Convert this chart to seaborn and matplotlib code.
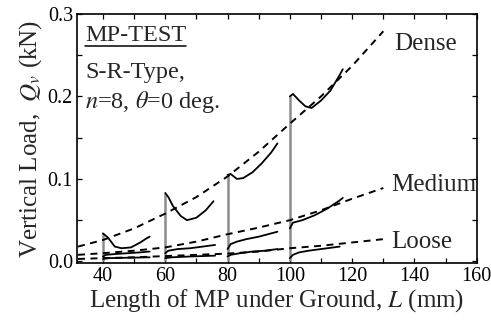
import matplotlib
matplotlib.use("Agg")
import matplotlib.pyplot as plt
import numpy as np
import pandas as pd
import seaborn as sns
from matplotlib.ticker import MultipleLocator, FormatStrFormatter

# ---------------- data ----------------
# dashed reference (trend) lines
trend_L = [32, 40, 50, 60, 70, 80, 90, 100, 110, 120, 130]
dense_trend = [0.018, 0.026, 0.040, 0.058, 0.078, 0.103, 0.133, 0.167, 0.200, 0.237, 0.279]
medium_trend = [0.008, 0.010, 0.013, 0.017, 0.024, 0.033, 0.041, 0.050, 0.062, 0.076, 0.089]
loose_trend = [0.003, 0.004, 0.005, 0.0065, 0.008, 0.0095, 0.012, 0.016, 0.019, 0.023, 0.027]

# measured curves, one per insertion stage (start at 40, 60, 80, 100 mm)
dense_40_L = [40, 41.6, 43.8, 46, 49, 52, 54, 55]
dense_40_Q = [0.034, 0.029, 0.018, 0.016, 0.017, 0.023, 0.028, 0.030]
dense_60_L = [60, 61, 62.5, 65, 67, 70, 73, 75.5]
dense_60_Q = [0.083, 0.078, 0.067, 0.055, 0.050, 0.053, 0.062, 0.073]
dense_80_L = [80, 81, 83, 85, 88, 91, 94, 96]
dense_80_Q = [0.105, 0.106, 0.100, 0.101, 0.108, 0.119, 0.132, 0.143]
dense_100_L = [100, 101, 103, 105, 107, 110, 113, 116, 117]
dense_100_Q = [0.200, 0.203, 0.195, 0.188, 0.186, 0.195, 0.207, 0.226, 0.233]

medium_40_L = [40, 41, 44, 48, 52, 55]
medium_40_Q = [0.006, 0.008, 0.009, 0.010, 0.011, 0.012]
medium_60_L = [60, 61, 64, 68, 72, 76]
medium_60_Q = [0.010, 0.013, 0.015, 0.016, 0.018, 0.020]
medium_80_L = [80, 81, 83, 86, 90, 94, 96]
medium_80_Q = [0.015, 0.021, 0.024, 0.027, 0.030, 0.034, 0.036]
medium_100_L = [100, 101, 104, 108, 112, 116, 117]
medium_100_Q = [0.040, 0.047, 0.050, 0.056, 0.064, 0.074, 0.077]

loose_40_L = [40, 42, 48, 55]
loose_40_Q = [0.003, 0.004, 0.0045, 0.005]
loose_60_L = [60, 62, 68, 76]
loose_60_Q = [0.004, 0.005, 0.006, 0.007]
loose_80_L = [80, 81, 84, 88, 92, 96]
loose_80_Q = [0.006, 0.008, 0.010, 0.012, 0.013, 0.015]
loose_100_L = [100, 101, 103, 106, 110, 116]
loose_100_Q = [0.004, 0.008, 0.011, 0.013, 0.015, 0.018]

stage_starts = [40, 60, 80, 100]
x_ticks = [40, 60, 80, 100, 120, 140, 160]
y_ticks = [0.0, 0.1, 0.2, 0.3]

# ---------------- tables ----------------
trend_df = pd.concat([
    pd.DataFrame({"L": trend_L, "Q": dense_trend, "sand": "Dense"}),
    pd.DataFrame({"L": trend_L, "Q": medium_trend, "sand": "Medium"}),
    pd.DataFrame({"L": trend_L, "Q": loose_trend, "sand": "Loose"}),
], ignore_index=True)

segments = {
    "d40": (dense_40_L, dense_40_Q), "d60": (dense_60_L, dense_60_Q),
    "d80": (dense_80_L, dense_80_Q), "d100": (dense_100_L, dense_100_Q),
    "m40": (medium_40_L, medium_40_Q), "m60": (medium_60_L, medium_60_Q),
    "m80": (medium_80_L, medium_80_Q), "m100": (medium_100_L, medium_100_Q),
    "l40": (loose_40_L, loose_40_Q), "l60": (loose_60_L, loose_60_Q),
    "l80": (loose_80_L, loose_80_Q), "l100": (loose_100_L, loose_100_Q),
}
curve_df = pd.concat([pd.DataFrame({"L": v[0], "Q": v[1], "seg": k})
                      for k, v in segments.items()], ignore_index=True)
dense_peaks = [dense_40_Q[0], dense_60_Q[0], dense_80_Q[0], dense_100_Q[0]]

# ---------------- figure ----------------
sns.set_theme(style="ticks")
plt.rcParams["font.family"] = ["Liberation Serif", "DejaVu Serif"]
plt.rcParams["mathtext.fontset"] = "stix"

fig = plt.figure(figsize=(4.91, 3.24), dpi=100)
ax = fig.add_axes([0.157, 0.188, 0.814, 0.769])

# vertical jumps at the start of every stage (grey)
ax.vlines(stage_starts, 0, dense_peaks, colors="0.55", lw=1.8, zorder=2)

sns.lineplot(data=trend_df, x="L", y="Q", units="sand", estimator=None,
             sort=False, color="black", lw=1.4, ax=ax, legend=False,
             linestyle=(0, (3.6, 2.8)))
sns.lineplot(data=curve_df, x="L", y="Q", units="seg", estimator=None,
             sort=False, color="black", lw=1.3, ax=ax, legend=False)

ax.set_xlim(31.7, 160)
ax.set_ylim(-0.002, 0.3)
ax.set_xticks(x_ticks)
ax.set_yticks(y_ticks)
ax.xaxis.set_minor_locator(MultipleLocator(10))
ax.yaxis.set_minor_locator(MultipleLocator(0.05))
ax.yaxis.set_major_formatter(FormatStrFormatter("%.1f"))
ax.tick_params(which="both", direction="in", top=True, right=True,
               length=3.5, width=0.9, labelsize=14.5, pad=3, colors="black")
for s in ax.spines.values():
    s.set_linewidth(1.2)
    s.set_color("black")

ax.set_xlabel("Length of MP under Ground, $\\mathit{L}$ (mm)", fontsize=18, labelpad=1)
ax.set_ylabel("Vertical Load,  $\\mathit{Q_v}$ (kN)", fontsize=18, labelpad=3)

ax.text(133.5, 0.263, "Dense", fontsize=18, va="center", ha="left")
ax.text(132.5, 0.093, "Medium", fontsize=18, va="center", ha="left")
ax.text(132.5, 0.023, "Loose", fontsize=18, va="center", ha="left")

t1 = ax.text(0.02, 0.915, "MP-TEST", transform=ax.transAxes, fontsize=17.5,
             va="center", ha="left")
ax.text(0.02, 0.765, "S-R-Type,", transform=ax.transAxes, fontsize=17.5,
        va="center", ha="left")
ax.text(0.02, 0.645, "$\\mathit{n}$=8, $\\mathit{\\theta}$=0 deg.",
        transform=ax.transAxes, fontsize=17.5, va="center", ha="left")

fig.canvas.draw()
bb = t1.get_window_extent(fig.canvas.get_renderer())
inv = ax.transAxes.inverted()
(x0, y0), (x1, _) = inv.transform([(bb.x0, bb.y0), (bb.x1, bb.y0)])
ax.plot([x0, x1], [y0 - 0.003, y0 - 0.003], transform=ax.transAxes,
        color="black", lw=1.1)

fig.savefig("out.png", dpi=100)
